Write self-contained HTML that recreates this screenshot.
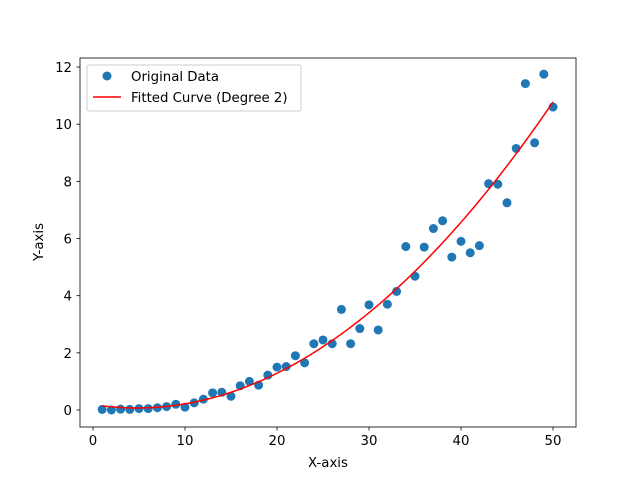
<!DOCTYPE html>
<html><head><meta charset="utf-8"><style>
body{margin:0;background:#fff;}
text{font-family:"DejaVu Sans","Liberation Sans",sans-serif;}
</style></head><body>
<svg id="chart" width="640" height="480" xmlns="http://www.w3.org/2000/svg">
<rect width="640" height="480" fill="#fff"/>
<g id="plot"></g>
</svg>
<script>
const xValues=[1,2,3,4,5,6,7,8,9,10,11,12,13,14,15,16,17,18,19,20,21,22,23,24,25,26,27,28,29,30,31,32,33,34,35,36,37,38,39,40,41,42,43,44,45,46,47,48,49,50];
const yValues=[0.02,0.0,0.03,0.02,0.05,0.05,0.08,0.12,0.2,0.1,0.25,0.38,0.6,0.62,0.48,0.85,1.0,0.87,1.22,1.5,1.52,1.9,1.65,2.32,2.45,2.32,3.52,2.32,2.85,3.68,2.8,3.7,4.15,5.72,4.68,5.7,6.35,6.62,5.35,5.9,5.5,5.75,7.92,7.9,7.25,9.15,11.42,9.35,11.75,10.6];
const xTicks=[0,10,20,30,40,50];
const yTicks=[0,2,4,6,8,10,12];
const NS="http://www.w3.org/2000/svg";
const X=v=>93+v*9.2;
const Y=v=>410-v*28.58;
const FS=13.3;
const g=document.getElementById('plot');
function mk(t,a,txt){const e=document.createElementNS(NS,t);for(const k in a)e.setAttribute(k,a[k]);if(txt!==undefined)e.textContent=txt;g.appendChild(e);return e;}
function fit(){let S=[0,0,0,0,0],T=[0,0,0];for(let i=0;i<xValues.length;i++){const x=xValues[i],y=yValues[i];for(let k=0;k<5;k++)S[k]+=Math.pow(x,k);for(let k=0;k<3;k++)T[k]+=y*Math.pow(x,k);}
const A=[[S[0],S[1],S[2],T[0]],[S[1],S[2],S[3],T[1]],[S[2],S[3],S[4],T[2]]];
for(let i=0;i<3;i++){for(let j=i+1;j<3;j++){const f=A[j][i]/A[i][i];for(let k=i;k<4;k++)A[j][k]-=f*A[i][k];}}
const c=[0,0,0];for(let i=2;i>=0;i--){let s=A[i][3];for(let k=i+1;k<3;k++)s-=A[i][k]*c[k];c[i]=s/A[i][i];}return c;}
const c=fit();
for(let i=0;i<xValues.length;i++){const p=mk('circle',{cx:X(xValues[i]),cy:Y(yValues[i]),r:4.5,fill:'#1f77b4'});

}
let d='';const x0=Math.min(...xValues),x1=Math.max(...xValues);
for(let i=0;i<=100;i++){const x=x0+(x1-x0)*i/100;const y=c[0]+c[1]*x+c[2]*x*x;d+=(i?'L':'M')+X(x).toFixed(2)+','+Y(y).toFixed(2);}
const ln=mk('path',{d:d,fill:'none',stroke:'red','stroke-width':1.5});


const fr=mk('rect',{x:80,y:58,width:496,height:369,fill:'none',stroke:'#000','stroke-width':0.8});


for(const t of xTicks){mk('line',{x1:X(t),x2:X(t),y1:427,y2:430.5,stroke:'#000','stroke-width':0.8});
const tx=mk('text',{x:X(t),y:445,'font-size':FS,'text-anchor':'middle'},t);

}
for(const t of yTicks){mk('line',{x1:76.5,x2:80,y1:Y(t),y2:Y(t),stroke:'#000','stroke-width':0.8});
const tx=mk('text',{x:72,y:Y(t)+5,'font-size':FS,'text-anchor':'end'},t);

}
const xt=mk('text',{x:328,y:467,'font-size':FS,'text-anchor':'middle'},'X-axis');


const yt=mk('text',{x:0,y:0,'font-size':FS,'text-anchor':'middle',transform:'translate(43,242) rotate(-90)'},'Y-axis');


const lg=mk('rect',{x:87,y:65,width:214,height:46,rx:2,fill:'#fff','fill-opacity':0.8,stroke:'#ccc','stroke-width':1});


mk('circle',{cx:107,cy:76,r:4.5,fill:'#1f77b4'});
const l1=mk('text',{x:131,y:81,'font-size':FS},'Original Data');


mk('line',{x1:93,x2:121,y1:97,y2:97,stroke:'red','stroke-width':1.5});
const l2=mk('text',{x:131,y:102,'font-size':FS},'Fitted Curve (Degree 2)');


</script>
</body></html>
